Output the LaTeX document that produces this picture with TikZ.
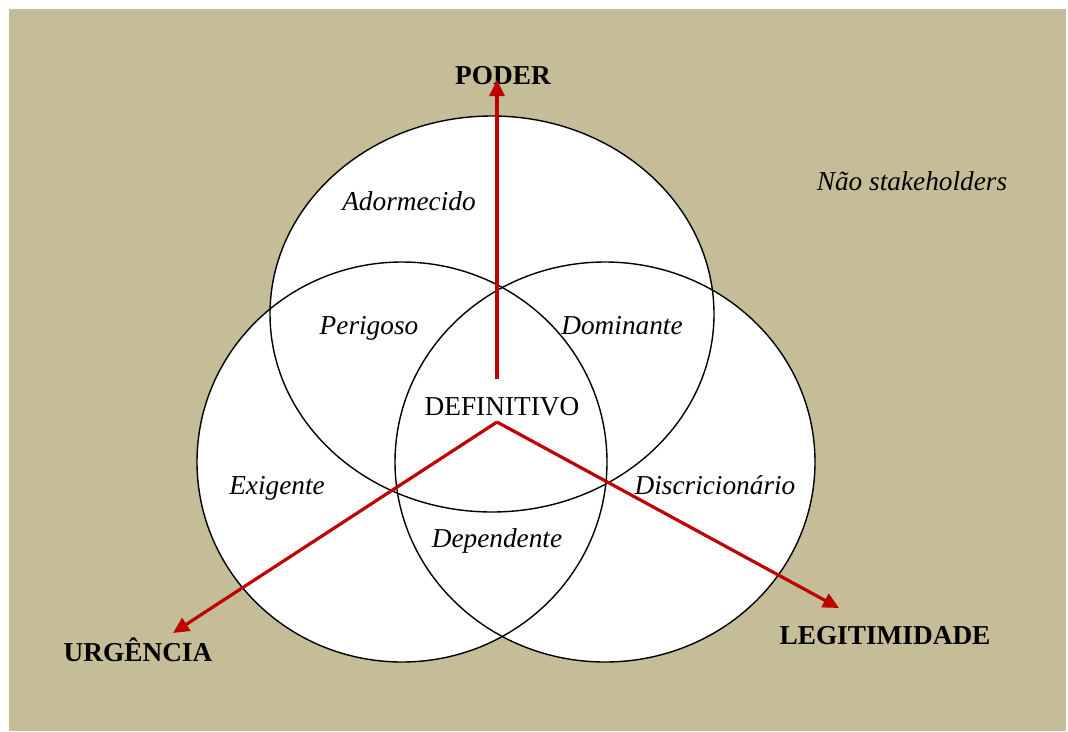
\documentclass[tikz,border=0pt]{standalone}
\usepackage{fontspec}
\setmainfont{Liberation Serif}
\usetikzlibrary{arrows.meta}
\definecolor{fundo}{RGB}{196,189,151}
\definecolor{seta}{RGB}{192,0,0}

\begin{document}
\begin{tikzpicture}[x=1pt, y=-1pt,
	  >={Triangle[length=16pt, width=15pt]},
  txt/.style     = {anchor=base, inner sep=0pt, font=\fontsize{27.3}{30}\selectfont},
  eixo/.style    = {txt, font=\fontsize{27.3}{30}\selectfont\bfseries},
  classe/.style  = {txt, font=\fontsize{27.3}{30}\selectfont\itshape},
  circulo/.style = {draw=black, line width=1.4pt},
  vetor/.style   = {->, draw=seta, line width=3.2pt}]

	% background of the whole picture
	\useasboundingbox (0,0) rectangle (1068,731);
	\fill[fundo] (9,9) rectangle (1066,731);

	% the three attributes, white fill first, then the outlines
	\fill[white] (492,314) ellipse [x radius=222, y radius=198];
	\fill[white] (402,462) ellipse [x radius=205, y radius=200];
	\fill[white] (605,462) ellipse [x radius=210, y radius=200];
	\draw[circulo] (492,314) ellipse [x radius=222, y radius=198];
	\draw[circulo] (402,462) ellipse [x radius=205, y radius=200];
	\draw[circulo] (605,462) ellipse [x radius=210, y radius=200];

	% axis labels
	\node[eixo] (poder) at (503,84) {PODER};
	\node[eixo] (urgencia) at (138,661) {URGÊNCIA};
	\node[eixo] (legitimidade) at (885,644) {LEGITIMIDADE};
	\node[classe] (nao) at (912,190) {Não stakeholders};

	% stakeholder classes
	\node[classe] (adormecido) at (409,210) {Adormecido};
	\node[classe] (perigoso) at (369,334) {Perigoso};
	\node[classe] (dominante) at (622,334) {Dominante};
	\node[txt] (definitivo) at (502,415) {DEFINITIVO};
	\node[classe] (exigente) at (277,494) {Exigente};
	\node[classe] (discricionario) at (715,494) {Discricionário};
	\node[classe] (dependente) at (497,547) {Dependente};

	% arrows out of the centre
	\coordinate (centro) at (497,422);
	\coordinate (base) at (497,379);
	\coordinate (tpoder) at (497,80);
	\coordinate (turgencia) at (173,633);
	\coordinate (tlegit) at (839,608);

	\draw[vetor] (base) -- (tpoder);
	\foreach \ponta in {turgencia, tlegit}
	  \draw[vetor] (centro) -- (\ponta);
\end{tikzpicture}
\end{document}
